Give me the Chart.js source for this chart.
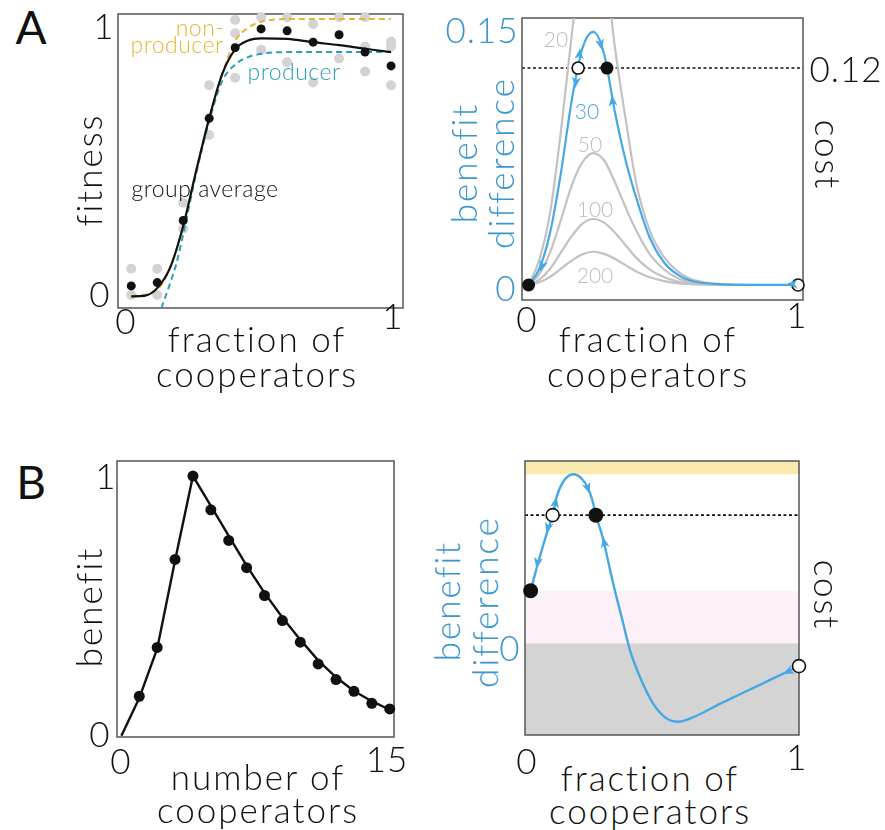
<!DOCTYPE html>
<html>
<head>
<meta charset="utf-8">
<script src="https://cdn.jsdelivr.net/npm/chart.js@4.4.1/dist/chart.umd.min.js"></script>
<style>
  body { margin: 0; background: #fff; width: 885px; height: 830px; position: relative; overflow: hidden; font-family: 'Lato', 'Open Sans', sans-serif; color: #111; }
  canvas { position: absolute; }
  .t { position: absolute; white-space: nowrap; line-height: 1; font-weight: 300; letter-spacing: 1px; transform: translate(-50%, -50%); }
</style>
</head>
<body>
<canvas id="fitnessChart"></canvas>
<canvas id="diffChartA"></canvas>
<canvas id="benefitChart"></canvas>
<canvas id="diffChartB"></canvas>
<script>
// ---- panel A, left: fitness vs fraction of cooperators
const fracX = [0, 0.1, 0.2, 0.3, 0.4, 0.5, 0.6, 0.7, 0.8, 0.9, 1.0];
const groupMeans = [0.033, 0.045, 0.27, 0.64, 0.896, 0.964, 0.957, 0.916, 0.943, 0.88, 0.83];
const replicateX = [0, 0, 0.1, 0.1, 0.2, 0.2, 0.3, 0.3, 0.4, 0.4, 0.4, 0.5, 0.5, 0.6, 0.6, 0.7, 0.7, 0.8, 0.8, 0.9, 0.9, 0.9, 1.0, 1.0, 1.0];
const replicateY = [0.095, 0.0, 0.095, 0.0, 0.334, 0.24, 0.76, 0.58, 0.996, 0.948, 0.787, 1.006, 0.888, 1.006, 0.843, 0.982, 0.77, 1.006, 0.857, 1.006, 0.9, 0.81, 0.918, 0.9, 0.76];
const avgX = [0, 0.05, 0.1, 0.15, 0.2, 0.25, 0.3, 0.35, 0.4, 0.45, 0.5, 0.6, 0.7, 0.8, 0.9, 1.0];
const avgY = [-0.005, -0.003, 0.025, 0.1, 0.25, 0.45, 0.64, 0.8, 0.89, 0.922, 0.93, 0.928, 0.916, 0.905, 0.892, 0.88];
const nonProdX = [0, 0.1, 0.15, 0.2, 0.25, 0.3, 0.35, 0.4, 0.45, 0.5, 0.55, 0.6, 1.0];
const nonProdY = [-0.005, 0.02, 0.1, 0.25, 0.45, 0.64, 0.8, 0.92, 0.968, 0.99, 0.998, 1.0, 1.0];
const prodX = [0.116, 0.145, 0.174, 0.2, 0.25, 0.3, 0.35, 0.4, 0.45, 0.5, 0.6, 1.0];
const prodY = [-0.047, 0.03, 0.115, 0.22, 0.44, 0.63, 0.775, 0.835, 0.862, 0.874, 0.88, 0.88];

// ---- panel A, right: benefit difference for group sizes
const diffX = [0, 0.04, 0.08, 0.12, 0.16, 0.2, 0.24, 0.28, 0.32, 0.36, 0.4, 0.45, 0.5, 0.55, 0.6, 0.7, 0.8, 1.0];
const diff20 = [0, 0.014, 0.04, 0.085, 0.138, 0.185, 0.2, 0.182, 0.132, 0.092, 0.056, 0.03, 0.016, 0.008, 0.0035, 0.0007, 0.0001, 0];
const diff30 = [0, 0.009, 0.029, 0.062, 0.102, 0.131, 0.14, 0.128, 0.096, 0.069, 0.048, 0.026, 0.013, 0.006, 0.0025, 0.0005, 0.0001, 0];
const diff50 = [0, 0.006, 0.018, 0.036, 0.055, 0.068, 0.073, 0.069, 0.057, 0.043, 0.03, 0.017, 0.009, 0.004, 0.0017, 0.0003, 0, 0];
const diff100 = [0, 0.003, 0.009, 0.018, 0.027, 0.034, 0.0365, 0.0345, 0.029, 0.022, 0.015, 0.0085, 0.0045, 0.002, 0.0009, 0.0002, 0, 0];
const diff200 = [0, 0.0015, 0.0045, 0.009, 0.0135, 0.017, 0.0184, 0.0172, 0.0145, 0.011, 0.0075, 0.0043, 0.0023, 0.001, 0.0005, 0.0001, 0, 0];
const costA = 0.12;
const stableA = [[0, 0], [0.291, 0.12]];
const unstableA = [[0.184, 0.12], [1, 0]];
// arrow tip, then a point behind it on the curve
const arrowsA = [[0.1915, 0.131, 0.185, 0.122], [0.272, 0.130, 0.262, 0.137], [0.173, 0.109, 0.18, 0.118],
                 [0.309, 0.105, 0.316, 0.096], [0.043, 0.0075, 0.06, 0.015], [0.957, 0.0005, 0.99, 0.0005]];

// ---- panel B, left: benefit vs number of cooperators
const coopN = [1, 2, 3, 4, 5, 6, 7, 8, 9, 10, 11, 12, 13, 14, 15];
const benefitPts = [0.152, 0.34, 0.679, 1.0, 0.87, 0.752, 0.647, 0.54, 0.4435, 0.36, 0.2765, 0.216, 0.171, 0.1246, 0.103];
const fitN = [0, 1, 2, 3, 4, 5, 6, 7, 8, 9, 10, 11, 12, 13, 14, 15];
const benefitFit = [0, 0.145, 0.335, 0.675, 1.0, 0.885, 0.77, 0.655, 0.55, 0.455, 0.37, 0.29, 0.225, 0.172, 0.133, 0.1];

// ---- panel B, right: benefit difference (arbitrary units, 0 = top of grey band)
const curveBX = [0, 0.022, 0.06, 0.082, 0.097, 0.121, 0.159, 0.19, 0.2145, 0.233, 0.243, 0.268, 0.3075, 0.345, 0.37, 0.407, 0.456, 0.506, 0.55, 0.618, 0.705, 0.78, 0.854, 0.94, 1.0];
const curveBY = [0.574, 0.818, 1.2, 1.4, 1.6, 1.762, 1.846, 1.80, 1.69, 1.527, 1.40, 1.162, 0.654, 0.218, -0.073, -0.364, -0.654, -0.818, -0.855, -0.79, -0.66, -0.555, -0.452, -0.333, -0.248];
const costB = 1.40;
const bandsB = [[1.846, 2.0, '#fbeaae'], [0, 0.574, '#fdf1f9'], [-1.0, 0, '#d4d4d4']];
const stableB = [[0, 0.574], [0.243, 1.40]];
const unstableB = [[0.082, 1.40], [1, -0.248]];
const arrowsB = [[0.022, 0.818, 0.03, 0.95], [0.06, 1.2, 0.068, 1.3], [0.097, 1.6, 0.09, 1.5],
                 [0.22, 1.636, 0.205, 1.76], [0.27, 1.162, 0.279, 1.03], [0.94, -0.333, 0.98, -0.28]];

const BLUE = '#46a8e4';
const BLUE_TEXT = '#3a96cf';
const PAD = 16;

function pts(xs, ys) { return xs.map((x, i) => ({ x: x, y: ys[i] })); }
function pairs(list) { return list.map(p => ({ x: p[0], y: p[1] })); }

const decoPlugin = {
  id: 'deco',
  beforeDatasetsDraw(chart, args, opts) {
    const { ctx, chartArea: a, scales: { x, y } } = chart;
    ctx.save();
    (opts.bands || []).forEach(b => {
      const y1 = Math.max(a.top, y.getPixelForValue(b[1]));
      const y0 = Math.min(a.bottom, y.getPixelForValue(b[0]));
      ctx.fillStyle = b[2];
      ctx.fillRect(a.left, y1, a.right - a.left, y0 - y1);
    });
    if (opts.hline !== undefined) {
      const py = y.getPixelForValue(opts.hline);
      ctx.strokeStyle = '#111';
      ctx.lineWidth = 1.6;
      ctx.setLineDash([3, 2.5]);
      ctx.beginPath();
      ctx.moveTo(a.left, py);
      ctx.lineTo(a.right, py);
      ctx.stroke();
      ctx.setLineDash([]);
    }
    ctx.strokeStyle = '#555';
    ctx.lineWidth = 1.5;
    ctx.strokeRect(a.left, a.top, a.right - a.left, a.bottom - a.top);
    ctx.restore();
  },
  afterDatasetsDraw(chart, args, opts) {
    const { ctx, scales: { x, y } } = chart;
    ctx.save();
    ctx.fillStyle = BLUE;
    (opts.arrows || []).forEach(ar => {
      const tx = x.getPixelForValue(ar[0]), ty = y.getPixelForValue(ar[1]);
      const bx = x.getPixelForValue(ar[2]), by = y.getPixelForValue(ar[3]);
      const ang = Math.atan2(ty - by, tx - bx);
      ctx.save();
      ctx.translate(tx, ty);
      ctx.rotate(ang);
      ctx.beginPath();
      ctx.moveTo(0, 0);
      ctx.lineTo(-11, -4.5);
      ctx.lineTo(-8, 0);
      ctx.lineTo(-11, 4.5);
      ctx.closePath();
      ctx.fill();
      ctx.restore();
    });
    ctx.restore();
  }
};

function makeChart(id, box, xr, yr, datasets, deco) {
  const cv = document.getElementById(id);
  cv.width = box[2] + 2 * PAD;
  cv.height = box[3] + 2 * PAD;
  cv.style.left = (box[0] - PAD) + 'px';
  cv.style.top = (box[1] - PAD) + 'px';
  return new Chart(cv.getContext('2d'), {
    type: 'scatter',
    data: { datasets: datasets },
    plugins: [decoPlugin],
    options: {
      responsive: false,
      animation: false,
      events: [],
      layout: { padding: PAD },
      plugins: { legend: { display: false }, tooltip: { enabled: false }, deco: deco || {} },
      scales: {
        x: { type: 'linear', display: false, min: xr[0], max: xr[1] },
        y: { type: 'linear', display: false, min: yr[0], max: yr[1] }
      }
    }
  });
}

function curve(data, color, width, extra) {
  return Object.assign({ data: data, showLine: true, borderColor: color, borderWidth: width, pointRadius: 0,
    cubicInterpolationMode: 'monotone', fill: false }, extra || {});
}
function dots(data, color, r, extra) {
  return Object.assign({ data: data, showLine: false, pointRadius: r, pointBackgroundColor: color,
    pointBorderColor: color, pointBorderWidth: 0, clip: false }, extra || {});
}
function openDots(data, r) {
  return { data: data, showLine: false, pointRadius: r, pointBackgroundColor: '#fff',
    pointBorderColor: '#111', pointBorderWidth: 1.6, clip: false };
}

// A left
makeChart('fitnessChart', [118, 14, 285, 294], [-0.051, 1.046], [-0.047, 1.018], [
  dots(pts(fracX, groupMeans), '#111', 4.5),
  curve(pts(avgX, avgY), '#111', 2.2),
  curve(pts(nonProdX, nonProdY), '#e8b432', 2, { borderDash: [6, 4] }),
  curve(pts(prodX, prodY), '#2a9fba', 2, { borderDash: [6, 4] }),
  dots(pts(replicateX, replicateY), '#d3d3d3', 5)
]);

// A right
makeChart('diffChartA', [522, 18, 281, 282], [-0.0244, 1.0185], [-0.0083, 0.1477], [
  dots(pairs(stableA), '#111', 6.5),
  openDots(pairs(unstableA), 6),
  curve(pts(diffX, diff30), BLUE, 2.2),
  curve(pts(diffX, diff20), '#c2c2c2', 2.2),
  curve(pts(diffX, diff50), '#c2c2c2', 2.2),
  curve(pts(diffX, diff100), '#c2c2c2', 2.2),
  curve(pts(diffX, diff200), '#c2c2c2', 2.2)
], { hline: costA, arrows: arrowsA });

// B left
makeChart('benefitChart', [117, 461, 277, 276], [-0.246, 15.24], [-0.005, 1.058], [
  dots(pts(coopN, benefitPts), '#111', 5.5),
  curve(pts(fitN, benefitFit), '#111', 2.4, { cubicInterpolationMode: 'default', tension: 0 })
]);

// B right
makeChart('diffChartB', [525, 461, 274, 274], [-0.021, 1.0], [-1.0, 1.991], [
  dots(pairs(stableB), '#111', 7.5),
  openDots(pairs(unstableB), 6.5),
  curve(pts(curveBX, curveBY), BLUE, 2.4)
], { bands: bandsB, hline: costB, arrows: arrowsB });

// text
function label(txt, x, y, size, opts) {
  opts = opts || {};
  const d = document.createElement('div');
  d.className = 't';
  d.textContent = txt;
  d.style.left = x + 'px';
  d.style.top = y + 'px';
  d.style.fontSize = size + 'px';
  if (opts.color) d.style.color = opts.color;
  if (opts.weight) d.style.fontWeight = opts.weight;
  if (opts.ls !== undefined) d.style.letterSpacing = opts.ls + 'px';
  if (opts.rot) d.style.transform = 'translate(-50%, -50%) rotate(' + opts.rot + 'deg)';
  document.body.appendChild(d);
}

const BIG = 35, TICK = 35, SMALL = 23, WIDE = 2;
label('A', 31, 27, 46, { weight: 400, ls: 0 });
label('B', 31, 482, 46, { weight: 400, ls: 0 });

label('1', 104, 25, TICK);
label('0', 100, 293, TICK);
label('fitness', 88, 170, BIG, { rot: -90, ls: WIDE });
label('0', 126, 320, TICK);
label('1', 393, 315, TICK);
label('fraction of', 257, 338, BIG, { ls: WIDE });
label('cooperators', 257, 373, BIG, { ls: WIDE });
label('non-', 200, 27, SMALL, { color: '#e8b432', ls: 0.5 });
label('producer', 177, 44, SMALL, { color: '#e8b432', ls: 0.5 });
label('producer', 294, 71, SMALL, { color: '#2a9fba', ls: 0.5 });
label('group average', 205, 188, SMALL, { ls: 0.5 });

label('0.15', 482, 29, TICK, { color: BLUE_TEXT });
label('0', 506, 287, TICK, { color: BLUE_TEXT });
label('benefit', 463, 163, BIG, { color: BLUE_TEXT, rot: -90, ls: WIDE });
label('difference', 500, 163, BIG, { color: BLUE_TEXT, rot: -90, ls: WIDE });
label('0', 527, 318, TICK);
label('1', 797, 314, TICK);
label('fraction of', 648, 338, BIG, { ls: WIDE });
label('cooperators', 648, 373, BIG, { ls: WIDE });
label('0.12', 846, 68, TICK);
label('cost', 828, 155, BIG, { rot: 90, ls: WIDE });
label('20', 556, 38, 21, { color: '#bdbdbd', ls: 0 });
label('30', 587, 110, 21, { color: BLUE, ls: 0 });
label('50', 590, 143, 21, { color: '#bdbdbd', ls: 0 });
label('100', 595, 208, 21, { color: '#bdbdbd', ls: 0 });
label('200', 595, 274, 21, { color: '#bdbdbd', ls: 0 });

label('1', 106, 475, TICK);
label('0', 100, 733, TICK);
label('benefit', 88, 607, BIG, { rot: -90, ls: WIDE });
label('0', 121, 760, TICK);
label('15', 387, 758, TICK);
label('number of', 258, 776, BIG, { ls: WIDE });
label('cooperators', 258, 809, BIG, { ls: WIDE });

label('benefit', 446, 601, BIG, { color: BLUE_TEXT, rot: -90, ls: WIDE });
label('difference', 484, 602, BIG, { color: BLUE_TEXT, rot: -90, ls: WIDE });
label('0', 510, 647, TICK, { color: BLUE_TEXT });
label('cost', 827, 595, BIG, { rot: 90, ls: WIDE });
label('0', 527, 760, TICK);
label('1', 797, 756, TICK);
label('fraction of', 650, 777, BIG, { ls: WIDE });
label('cooperators', 650, 810, BIG, { ls: WIDE });
</script>
</body>
</html>
